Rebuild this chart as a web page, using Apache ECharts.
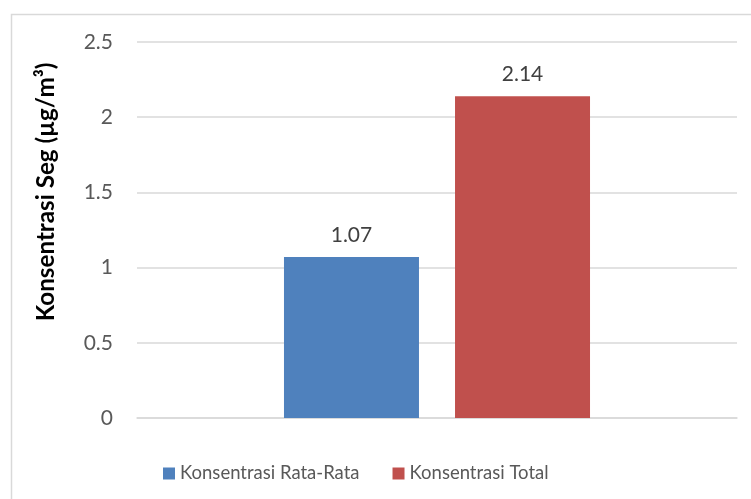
<!DOCTYPE html>
<html><head><meta charset="utf-8">
<script src="https://cdn.jsdelivr.net/npm/echarts@6/dist/echarts.min.js"></script>
<style>html,body{margin:0;padding:0;background:#fff}#c{width:751px;height:499px}</style>
</head><body><div id="c"></div>
<script>
const categories = [''];
const seriesNames = ['Konsentrasi Rata-Rata', 'Konsentrasi Total'];
const rataRata = [1.07];
const total = [2.14];
const yTitle = 'Konsentrasi Seg (µg/m³)';

const FONT = 'Lato';
const chart = echarts.init(document.getElementById('c'));
chart.setOption({
  animation: false,
  textStyle: { fontFamily: FONT },
  grid: { left: 137, right: 14, top: 42, bottom: 81, containLabel: false },
  legend: {
    top: 459, left: 158, itemWidth: 12, itemHeight: 12, itemGap: 33,
    icon: 'rect',
    textStyle: { fontFamily: FONT, fontSize: 18.5, color: '#595959' },
    data: seriesNames
  },
  xAxis: {
    type: 'category', data: categories,
    axisLine: { lineStyle: { color: '#d9d9d9', width: 1.5 } },
    axisTick: { show: false }, axisLabel: { show: false }
  },
  yAxis: {
    type: 'value', min: 0, max: 2.5, interval: 0.5,
    axisLine: { show: false }, axisTick: { show: false },
    splitLine: { lineStyle: { color: '#d9d9d9', width: 1.5 } },
    axisLabel: { fontFamily: FONT, fontSize: 21, color: '#595959', margin: 24 }
  },
  graphic: [
    { type: 'rect', left: 9, top: 12, shape: { width: 800, height: 600 }, style: { fill: 'none', stroke: '#d9d9d9', lineWidth: 1.5 }, silent: true, z: -1 },
    { type: 'text', x: 46, y: 192, rotation: Math.PI / 2, style: { text: yTitle, fontFamily: FONT, fontWeight: 'bold', fontSize: 24.2, fill: '#000', align: 'center', verticalAlign: 'middle' } }
  ],
  series: [
    { name: seriesNames[0], type: 'bar', data: rataRata, barWidth: 135, barGap: '26.7%', itemStyle: { color: '#4F81BD' },
      label: { show: true, position: 'top', distance: 11, fontFamily: FONT, fontSize: 21, color: '#404040', formatter: p => p.value.toFixed(2) } },
    { name: seriesNames[1], type: 'bar', data: total, barWidth: 135, barGap: '26.7%', itemStyle: { color: '#C0504D' },
      label: { show: true, position: 'top', distance: 11, fontFamily: FONT, fontSize: 21, color: '#404040', formatter: p => p.value.toFixed(2) } }
  ]
});
</script></body></html>
